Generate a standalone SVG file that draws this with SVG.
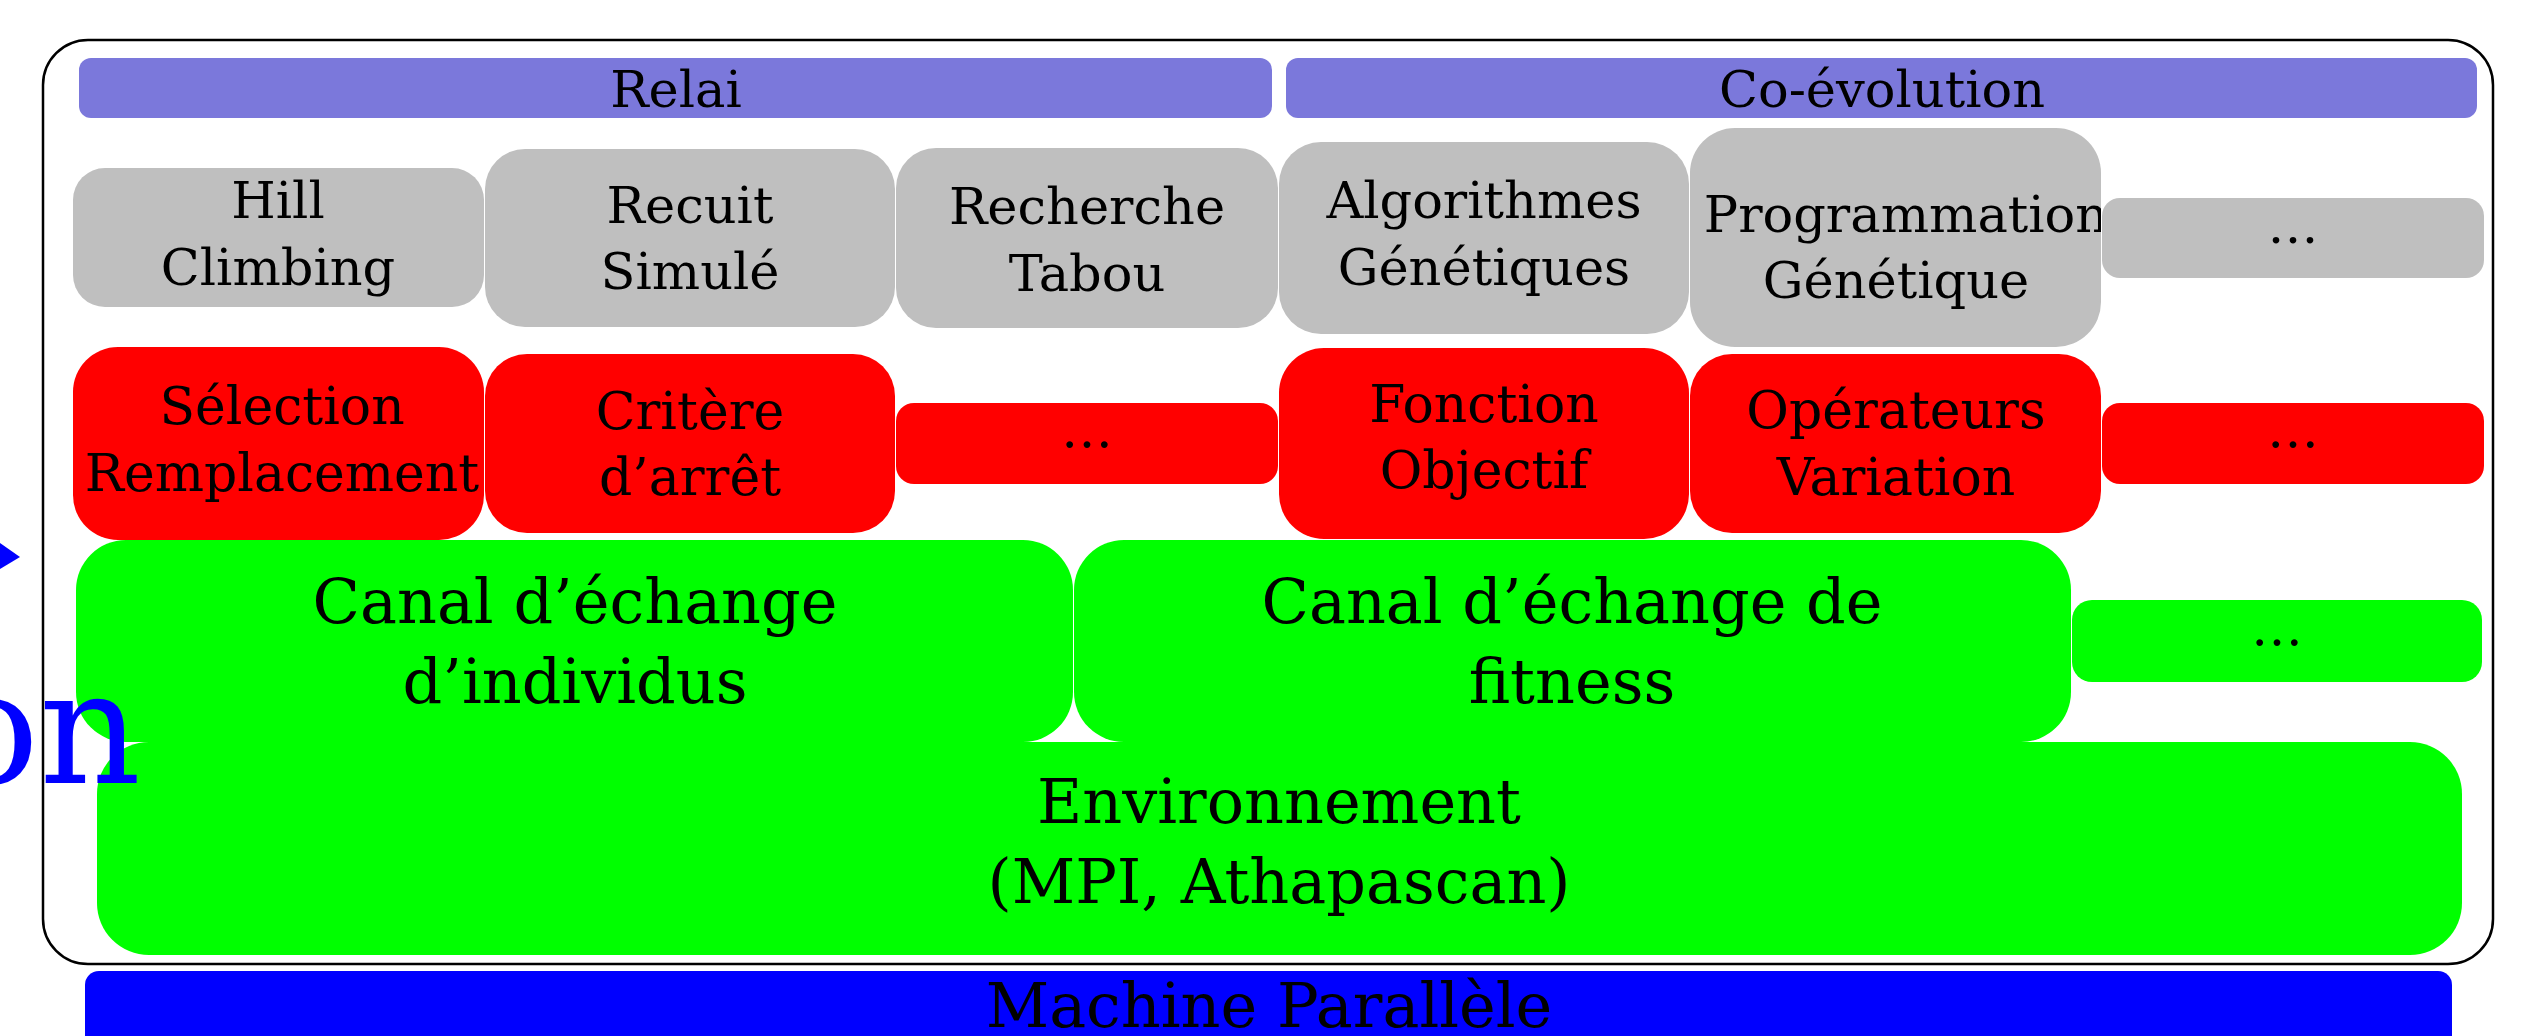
<svg xmlns="http://www.w3.org/2000/svg" width="2526" height="1036" viewBox="0 0 2526 1036">
<style>
text{font-family:"DejaVu Serif","Liberation Serif",serif;fill:#000;text-anchor:middle}
.t1{font-size:51px}
.t2{font-size:52px}
.t3{font-size:62px}
.bar{fill:#7B78DB}
.gray{fill:#BFBFBF}
.red{fill:#FF0000}
.green{fill:#00FF00}
</style>
<defs>
<clipPath id="pgclip"><rect x="1690" y="128" width="411" height="219"/></clipPath>
</defs>
<rect width="2526" height="1036" fill="#fff"/>
<g id="relai"><rect class="bar" x="79" y="58" width="1193" height="60" rx="12"/><text class="t1" x="676" y="107">Relai</text></g>
<g id="coevolution"><rect class="bar" x="1286" y="58" width="1191" height="60" rx="12"/><text class="t1" x="1882" y="107">Co-évolution</text></g>
<g id="hill"><rect class="gray" x="73" y="168" width="411" height="139" rx="32"/><text class="t1" x="278" y="218">Hill</text><text class="t1" x="278" y="285">Climbing</text></g>
<g id="recuit"><rect class="gray" x="485" y="149" width="410" height="178" rx="40"/><text class="t1" x="690" y="223">Recuit</text><text class="t1" x="690" y="289">Simulé</text></g>
<g id="tabou"><rect class="gray" x="896" y="148" width="382" height="180" rx="40"/><text class="t1" x="1087" y="224">Recherche</text><text class="t1" x="1087" y="291">Tabou</text></g>
<g id="ag"><rect class="gray" x="1279" y="142" width="410" height="192" rx="42"/><text class="t1" x="1484" y="218">Algorithmes</text><text class="t1" x="1484" y="285">Génétiques</text></g>
<g id="pg"><rect class="gray" x="1690" y="128" width="411" height="219" rx="45"/><g clip-path="url(#pgclip)"><text class="t1" x="1906" y="232">Programmation</text></g><text class="t1" x="1896" y="298">Génétique</text></g>
<g id="etc1"><rect class="gray" x="2102" y="198" width="382" height="80" rx="18"/><text class="t1" x="2293" y="243">…</text></g>
<g id="selection"><rect class="red" x="73" y="347" width="411" height="193" rx="45"/><text class="t2" x="282" y="424">Sélection</text><text class="t2" x="282" y="491">Remplacement</text></g>
<g id="critere"><rect class="red" x="485" y="354" width="410" height="179" rx="42"/><text class="t2" x="690" y="429">Critère</text><text class="t2" x="690" y="495">d’arrêt</text></g>
<g id="etc2"><rect class="red" x="896" y="403" width="382" height="81" rx="18"/><text class="t2" x="1087" y="447">…</text></g>
<g id="fonction"><rect class="red" x="1279" y="348" width="410" height="191" rx="45"/><text class="t2" x="1484" y="422">Fonction</text><text class="t2" x="1484" y="488">Objectif</text></g>
<g id="operateurs"><rect class="red" x="1690" y="354" width="411" height="179" rx="42"/><text class="t2" x="1896" y="428">Opérateurs</text><text class="t2" x="1896" y="495">Variation</text></g>
<g id="etc3"><rect class="red" x="2102" y="403" width="382" height="81" rx="18"/><text class="t2" x="2293" y="447">…</text></g>
<g id="canal1"><rect class="green" x="76" y="540" width="997" height="202" rx="50"/><text class="t3" x="575" y="623">Canal d’échange</text><text class="t3" x="575" y="703">d’individus</text></g>
<g id="canal2"><rect class="green" x="1074" y="540" width="997" height="202" rx="50"/><text class="t3" x="1572" y="623">Canal d’échange de</text><text class="t3" x="1572" y="703">fitness</text></g>
<g id="etc4"><rect class="green" x="2072" y="600" width="410" height="82" rx="20"/><text class="t2" x="2277" y="645">…</text></g>
<g id="env"><rect class="green" x="97" y="742" width="2365" height="213" rx="52"/><text class="t3" x="1279" y="823">Environnement</text><text class="t3" x="1279" y="903">(MPI, Athapascan)</text></g>
<g id="machine"><rect x="85" y="971" width="2367" height="110" rx="14" fill="#0000FF"/><text class="t3" x="1269" y="1027">Machine Parallèle</text></g>
<g id="side">
<polygon points="0,543 20,557 0,569" fill="#0000FF"/>
<text x="141" y="783" style="font-size:158px;fill:#0000FF;text-anchor:end">on</text>
</g>
<g id="frame"><rect x="43" y="40" width="2450" height="924" rx="45" fill="none" stroke="#000" stroke-width="2.5"/></g>
<g id="connectors"/>
</svg>
